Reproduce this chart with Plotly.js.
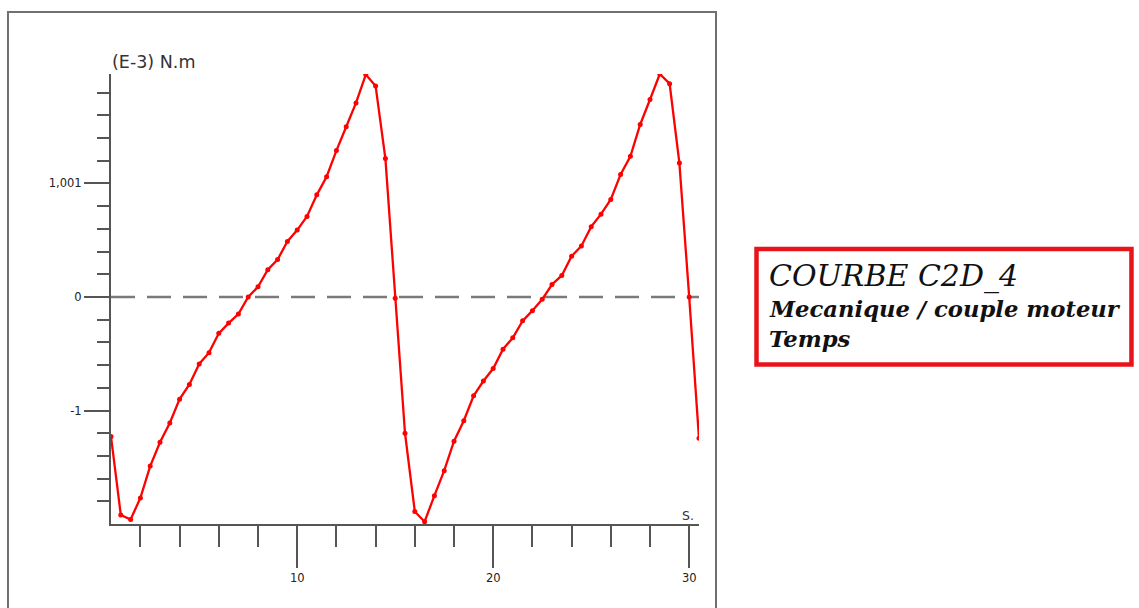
<!DOCTYPE html>
<html>
<head>
<meta charset="utf-8">
<script src="https://cdn.plot.ly/plotly-3.0.1.min.js"></script>
<style>
  html, body { margin: 0; padding: 0; background: #ffffff; }
  #chart { width: 1139px; height: 608px; }
</style>
</head>
<body>
<div id="chart"></div>
<script>
// Time (s)
const temps = [
  0.5, 1.0, 1.5, 2.0, 2.5, 3.0, 3.5, 4.0, 4.5, 5.0,
  5.5, 6.0, 6.5, 7.0, 7.5, 8.0, 8.5, 9.0, 9.5, 10.0,
  10.5, 11.0, 11.5, 12.0, 12.5, 13.0, 13.5, 14.0, 14.5, 15.0,
  15.5, 16.0, 16.5, 17.0, 17.5, 18.0, 18.5, 19.0, 19.5, 20.0,
  20.5, 21.0, 21.5, 22.0, 22.5, 23.0, 23.5, 24.0, 24.5, 25.0,
  25.5, 26.0, 26.5, 27.0, 27.5, 28.0, 28.5, 29.0, 29.5, 30.0,
  30.5
];
// Couple moteur (E-3 N.m)
const couple = [
  -1.23, -1.92, -1.96, -1.77, -1.49, -1.28, -1.11, -0.90, -0.77, -0.59,
  -0.49, -0.32, -0.23, -0.15, 0.00, 0.09, 0.24, 0.33, 0.49, 0.59,
  0.71, 0.90, 1.06, 1.29, 1.50, 1.71, 1.96, 1.86, 1.22, -0.01,
  -1.20, -1.89, -1.98, -1.75, -1.53, -1.27, -1.09, -0.87, -0.74, -0.63,
  -0.46, -0.36, -0.21, -0.12, -0.02, 0.11, 0.19, 0.36, 0.45, 0.62,
  0.73, 0.86, 1.08, 1.24, 1.52, 1.74, 1.965, 1.88, 1.18, 0.00,
  -1.245
];
// Tick labels
const xTickVals = [10, 20, 30];
const xTickText = ['10', '20', '30'];
const xMinorVals = [2, 4, 6, 8, 12, 14, 16, 18, 22, 24, 26, 28];
const yTickVals = [-1, 0, 1.001];
const yTickText = ['-1', '0', '1,001'];
const yMinorVals = [-1.8, -1.6, -1.4, -1.2, -0.8, -0.6, -0.4, -0.2,
                    0.2, 0.4, 0.6, 0.8, 1.2, 1.4, 1.6, 1.8];
const yUnit = '(E-3) N.m';
const xUnit = 'S.';
const titleLines = ['COURBE C2D_4', 'Mecanique / couple moteur', 'Temps'];

const axisColor = '#555555';
const tickFont = {family: 'DejaVu Sans, Verdana, sans-serif', size: 11.5, color: '#222222'};

const trace = {
  x: temps,
  y: couple,
  type: 'scatter',
  mode: 'lines+markers',
  line: {color: '#ff0000', width: 2.3},
  marker: {color: '#ff0000', size: 5, symbol: 'circle'},
  hoverinfo: 'x+y',
  showlegend: false
};

const layout = {
  width: 1139,
  height: 608,
  margin: {l: 111, r: 440, t: 74, b: 84, pad: 0},
  paper_bgcolor: '#ffffff',
  plot_bgcolor: '#ffffff',
  showlegend: false,
  xaxis: {
    range: [0.5, 30.5],
    showgrid: false,
    zeroline: false,
    showline: true,
    linecolor: axisColor,
    linewidth: 2,
    ticks: 'outside',
    ticklen: 42,
    tickwidth: 2,
    tickcolor: axisColor,
    tickmode: 'array',
    tickvals: xTickVals,
    ticktext: xTickText,
    tickfont: tickFont,
    minor: {ticks: 'outside', ticklen: 21, tickwidth: 2, tickcolor: axisColor,
            tickmode: 'array', tickvals: xMinorVals, showgrid: false}
  },
  yaxis: {
    range: [-2.0, 1.965],
    showgrid: false,
    zeroline: false,
    showline: true,
    linecolor: axisColor,
    linewidth: 2,
    ticks: 'outside',
    ticklen: 25,
    tickwidth: 2,
    tickcolor: axisColor,
    tickmode: 'array',
    tickvals: yTickVals,
    ticktext: yTickText,
    tickfont: tickFont,
    minor: {ticks: 'outside', ticklen: 12, tickwidth: 2, tickcolor: axisColor,
            tickmode: 'array', tickvals: yMinorVals, showgrid: false}
  },
  shapes: [
    // dashed zero line
    {type: 'line', xref: 'paper', yref: 'y', x0: 0, x1: 1, y0: 0, y1: 0,
     line: {color: '#7a7a7a', width: 2.5, dash: '24px,12px'}, layer: 'below'},
    // outer frame
    {type: 'rect', xref: 'paper', yref: 'paper', x0: -0.1752, x1: 1.0289, y0: -0.25, y1: 1.1378,
     line: {color: '#707070', width: 2}, fillcolor: 'rgba(0,0,0,0)', layer: 'below'},
    // title box
    {type: 'rect', xref: 'paper', yref: 'paper', x0: 1.0978, x1: 1.7355, y0: 0.3544, y1: 0.6111,
     line: {color: '#e8141c', width: 4.5}, fillcolor: 'rgba(0,0,0,0)'}
  ],
  annotations: [
    {text: yUnit, xref: 'paper', yref: 'paper', x: -0.0017, y: 1.0267,
     xanchor: 'left', yanchor: 'middle', showarrow: false,
     font: {family: 'DejaVu Sans, Verdana, sans-serif', size: 17.5, color: '#333333'}},
    {text: xUnit, xref: 'paper', yref: 'paper', x: 0.9813, y: 0.02,
     xanchor: 'center', yanchor: 'middle', showarrow: false,
     font: {family: 'DejaVu Sans, Verdana, sans-serif', size: 12.5, color: '#333333'}},
    {text: '<i>' + titleLines[0] + '</i>', xref: 'paper', yref: 'paper', x: 1.1156, y: 0.551,
     xanchor: 'left', yanchor: 'middle', showarrow: false,
     font: {family: 'DejaVu Serif, serif', size: 30, color: '#111111'}},
    {text: '<b><i>' + titleLines[1] + '</i></b>', xref: 'paper', yref: 'paper', x: 1.1156, y: 0.4767,
     xanchor: 'left', yanchor: 'middle', showarrow: false,
     font: {family: 'DejaVu Serif, serif', size: 22.7, color: '#111111'}},
    {text: '<b><i>' + titleLines[2] + '</i></b>', xref: 'paper', yref: 'paper', x: 1.1156, y: 0.4122,
     xanchor: 'left', yanchor: 'middle', showarrow: false,
     font: {family: 'DejaVu Serif, serif', size: 22.7, color: '#111111'}}
  ]
};

Plotly.newPlot('chart', [trace], layout, {displayModeBar: false, staticPlot: true});
</script>
</body>
</html>
